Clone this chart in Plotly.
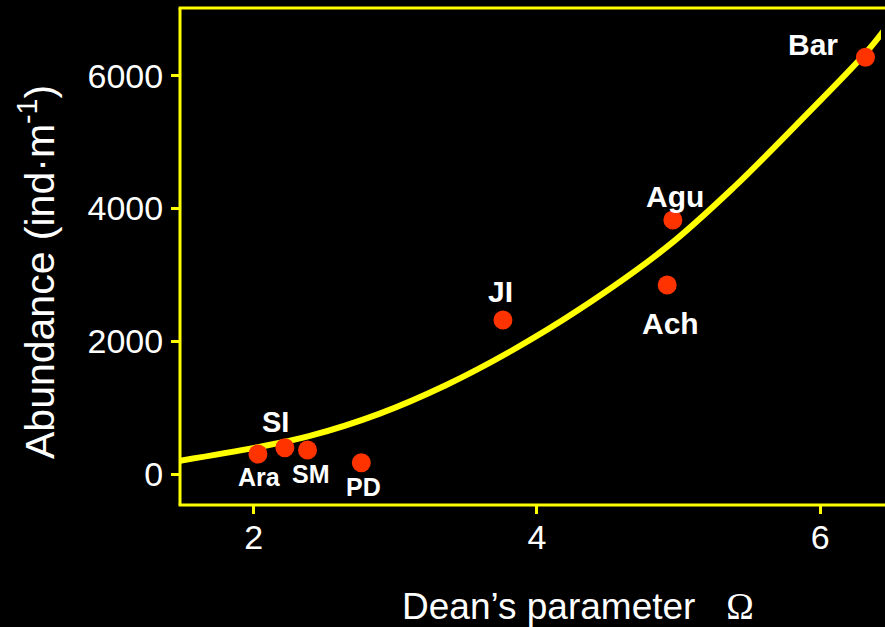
import plotly.graph_objects as go

# Beach sites: Dean's parameter (Omega) vs. macrofauna abundance
sites = ["Ara", "SI", "SM", "PD", "JI", "Agu", "Ach", "Bar"]
omega = [2.03, 2.22, 2.38, 2.76, 3.76, 4.96, 4.92, 6.32]
abundance = [301, 396, 362, 170, 2320, 3826, 2847, 6277]

# Fitted trend line, read along its length
fit_omega = [1.48, 2.03, 2.39, 2.89, 3.36, 3.83, 4.30, 4.92, 5.39, 5.86, 6.32, 6.45]
fit_abundance = [200, 405, 570, 910, 1341, 1868, 2480, 3424, 4318, 5320, 6338, 6680]

x_ticks = [2, 4, 6]
x_tick_text = ["2", "4", "6"]
y_ticks = [0, 2000, 4000, 6000]
y_tick_text = ["0", "2000", "4000", "6000"]

YELLOW = "#FFFF00"
DOT = "#FF3300"
FONT = "Liberation Sans, Arial, sans-serif"

# label placement relative to each point (pixels) and label size
label_style = {
    "Ara": (2, -23, 25),
    "SI": (-9, 26, 29),
    "SM": (3, -24, 25),
    "PD": (2, -24, 25),
    "JI": (-2, 28, 30),
    "Agu": (2, 24, 30),
    "Ach": (3, -38, 30),
    "Bar": (-52, 13, 30),
}

fig = go.Figure()

fig.add_trace(go.Scatter(
    x=fit_omega, y=fit_abundance, mode="lines",
    line=dict(color=YELLOW, width=6, shape="spline", smoothing=1.0),
    hoverinfo="skip", showlegend=False,
))

fig.add_trace(go.Scatter(
    x=omega, y=abundance, mode="markers",
    marker=dict(color=DOT, size=19, line=dict(width=0)),
    hoverinfo="skip", showlegend=False,
))

annotations = []
for name, xv, yv in zip(sites, omega, abundance):
    dx, dy, size = label_style[name]
    annotations.append(dict(
        x=xv, y=yv, xref="x", yref="y", text=f"<b>{name}</b>",
        showarrow=False, xshift=dx, yshift=dy,
        xanchor="center", yanchor="middle",
        font=dict(family=FONT, size=size, color="white"),
    ))

# axis titles
annotations.append(dict(
    x=0.565, y=-0.205, xref="paper", yref="paper",
    text="Dean\u2019s parameter\u00a0\u00a0\u00a0<span style='font-family:Liberation Serif, Times New Roman, serif'>\u03a9</span>",
    showarrow=False, xanchor="center", yanchor="middle",
    font=dict(family=FONT, size=37, color="white"),
))
annotations.append(dict(
    x=-0.202, y=0.468, xref="paper", yref="paper",
    text="Abundance (ind\u00b7m<sup>-1</sup>)", textangle=-90,
    showarrow=False, xanchor="center", yanchor="middle",
    font=dict(family=FONT, size=41, color="white"),
))

# frame: the plot area is open on the right; left, top and bottom edges drawn
edge = dict(color=YELLOW, width=3)
frame = [
    dict(type="rect", xref="paper", yref="paper", x0=0.9943, x1=1.0, y0=-0.01, y1=1.01,
         fillcolor="black", line=dict(width=0), layer="above"),
    dict(type="line", xref="paper", yref="paper", x0=0, x1=0, y0=0, y1=1.0, line=edge),
    dict(type="line", xref="paper", yref="paper", x0=-0.002, x1=1.0, y0=1.0, y1=1.0, line=edge),
    dict(type="line", xref="paper", yref="paper", x0=-0.002, x1=1.0, y0=0, y1=0, line=edge),
]

fig.update_layout(
    width=885, height=627,
    margin=dict(l=180, r=0, t=8, b=122),
    paper_bgcolor="black", plot_bgcolor="black",
    annotations=annotations,
    shapes=frame,
    showlegend=False,
)

fig.update_xaxes(
    range=[1.4795, 6.458], showgrid=False, zeroline=False,
    showline=False, mirror=False,
    ticks="outside", ticklen=8, tickwidth=3, tickcolor=YELLOW,
    tickvals=x_ticks, ticktext=x_tick_text, ticklabelstandoff=-6,
    tickfont=dict(family=FONT, size=34, color="white"),
)
fig.update_yaxes(
    range=[-467, 7020], showgrid=False, zeroline=False,
    showline=False, mirror=False,
    ticks="outside", ticklen=8, tickwidth=3, tickcolor=YELLOW,
    tickvals=y_ticks, ticktext=y_tick_text, ticklabelstandoff=1,
    tickfont=dict(family=FONT, size=34, color="white"),
)

fig.write_html("out.html")
